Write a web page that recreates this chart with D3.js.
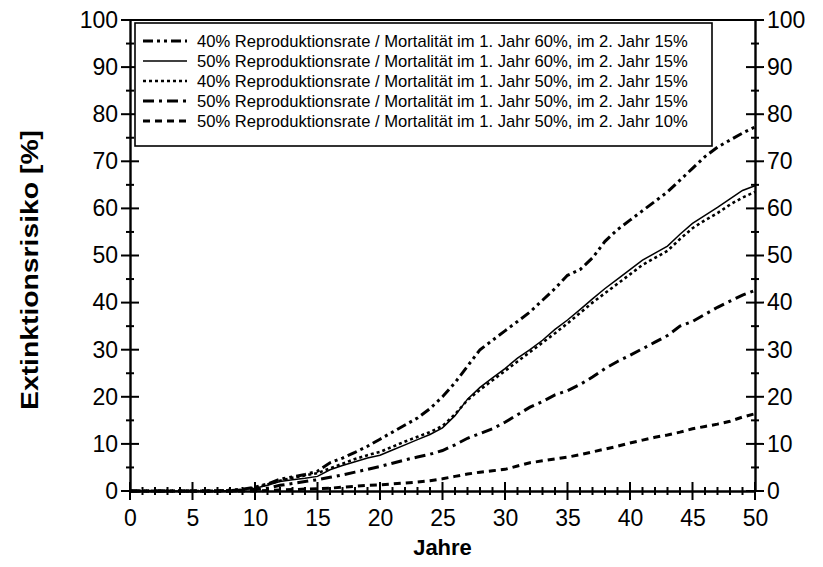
<!DOCTYPE html>
<html>
<head>
<meta charset="utf-8">
<script src="https://cdn.jsdelivr.net/npm/d3@7"></script>
<style>
body { margin: 0; background: #fff; }
text { font-family: Arial, "Liberation Sans", sans-serif; fill: #000; }
</style>
</head>
<body>
<script>
var w = 823;
var h = 567;

var margin = {top: 20, bottom: 76, left: 130, right: 68};

// years 0..50
var years = d3.range(0, 51);

var labels = [
    "40% Reproduktionsrate / Mortalität im 1. Jahr 60%, im 2. Jahr 15%",
    "50% Reproduktionsrate / Mortalität im 1. Jahr 60%, im 2. Jahr 15%",
    "40% Reproduktionsrate / Mortalität im 1. Jahr 50%, im 2. Jahr 15%",
    "50% Reproduktionsrate / Mortalität im 1. Jahr 50%, im 2. Jahr 15%",
    "50% Reproduktionsrate / Mortalität im 1. Jahr 50%, im 2. Jahr 10%"
];

var s1 = [0,0,0,0,0,0,0,0,0.2,0.4, 0.8,1.5,2.5,3,3.5,4.2,6,7,8.2,9.5,
    11,12.5,14,15.5,17.5,20,23,26.5,30,32, 34,36,38,40.5,43,45.8,47,49.5,53,55.5,
    57.5,59.5,61.5,63.5,66,68.5,71,73,74.5,76, 77.3];
var s2 = [0,0,0,0,0,0,0,0,0.1,0.3, 0.6,1.2,2,2.4,2.7,3.1,4.5,5.4,6.2,7,
    7.6,8.7,9.8,10.9,12,13.4,16,19.5,22,24, 26,28.2,30,32,34.3,36.3,38.5,40.8,43,45,
    47,49,50.5,52,54.5,56.8,58.5,60.2,62,63.8, 64.8];
var s3 = [0,0,0,0,0,0,0,0,0.1,0.3, 0.7,1.4,2.2,2.8,3.3,3.8,4.8,5.8,6.8,7.6,
    8.3,9.4,10.5,11.5,12.5,13.8,16.3,19.3,21.5,23.5, 25.5,27.5,29.5,31.5,33.5,35.6,37.8,40,42,44,
    46,48,49.5,51,53.5,55.8,57.5,59,60.8,62.3, 63.5];
var s4 = [0,0,0,0,0,0,0,0,0,0.1, 0.3,0.6,1.2,1.6,2,2.4,2.9,3.4,4,4.6,
    5.2,5.9,6.6,7.2,7.8,8.6,9.8,11.2,12.2,13.2, 14.6,16.2,17.8,19,20.4,21.3,22.6,24.2,26,27.5,
    28.8,30.2,31.6,33,35,36,37.5,39,40.3,41.6, 42.6];
var s5 = [0,0,0,0,0,0,0,0,0,0, 0,0.1,0.2,0.3,0.4,0.5,0.6,0.8,1,1.2,
    1.3,1.5,1.7,1.9,2.2,2.6,3.1,3.6,4,4.3, 4.6,5.3,6,6.4,6.8,7.2,7.7,8.3,8.9,9.5,
    10.2,10.8,11.4,11.9,12.5,13.2,13.7,14.2,14.8,15.7, 16.4];

var seriesList = [s1, s2, s3, s4, s5];

// line styles: dash-dot-dot, solid, dotted, dash-dot, dashed
var dashes = ["10,4,3,4,3,4", null, "3,3", "11,5,3,5", "7,5"];
var widths = [3, 1.5, 2.6, 3, 3];

var xTicks = d3.range(0, 51, 5);
var yTicks = d3.range(0, 101, 10);

var width = w - margin.left - margin.right;
var height = h - margin.top - margin.bottom;

var svg = d3.select("body")
    .append("svg")
    .attr("width", w)
    .attr("height", h);

var g = svg.append("g")
    .attr("transform", "translate(" + margin.left + "," + margin.top + ")");

var x = d3.scaleLinear().domain([0, 50]).range([0, width]);
var y = d3.scaleLinear().domain([0, 100]).range([height, 0]);

// frame top line
g.append("line")
    .attr("x1", 0).attr("x2", width)
    .attr("y1", 0).attr("y2", 0)
    .attr("stroke", "#000").attr("stroke-width", 2);

// axes lines + labels via d3 axes
var xAxis = g.append("g")
    .attr("transform", "translate(0," + height + ")")
    .call(d3.axisBottom(x).tickValues(xTicks).tickSize(0).tickPadding(15));
var yLeft = g.append("g")
    .call(d3.axisLeft(y).tickValues(yTicks).tickSize(0).tickPadding(12));
var yRight = g.append("g")
    .attr("transform", "translate(" + width + ",0)")
    .call(d3.axisRight(y).tickValues(yTicks).tickSize(0).tickPadding(12));

[xAxis, yLeft, yRight].forEach(function(a){
    a.select(".domain").attr("stroke", "#000").attr("stroke-width", 2.4);
    a.selectAll("text")
        .style("font-family", "Arial, 'Liberation Sans', sans-serif")
        .style("font-size", "23px")
        .attr("fill", "#000");
});
xAxis.selectAll("text").attr("dy", "0.85em");

// crossing tick helper
function drawTicks(values, size, orient) {
    values.forEach(function(v){
        var l = g.append("line").attr("stroke", "#000").attr("stroke-width", 2);
        if (orient == "bottom") {
            l.attr("x1", x(v)).attr("x2", x(v)).attr("y1", height - size).attr("y2", height + size);
        } else if (orient == "left") {
            l.attr("x1", -size).attr("x2", size).attr("y1", y(v)).attr("y2", y(v));
        } else {
            l.attr("x1", width - size).attr("x2", width + size).attr("y1", y(v)).attr("y2", y(v));
        }
    });
}

drawTicks(d3.range(0, 51, 1).filter(function(d){ return d % 5 != 0; }), 4, "bottom");
drawTicks(xTicks, 9, "bottom");
drawTicks(d3.range(5, 100, 10), 4, "left");
drawTicks(yTicks, 9, "left");
drawTicks(d3.range(5, 100, 10), 4, "right");
drawTicks(yTicks, 9, "right");

// series lines
var line = d3.line()
    .x(function(d, i){ return x(years[i]); })
    .y(function(d){ return y(d); });

seriesList.forEach(function(s, i){
    g.append("path")
        .datum(s)
        .attr("d", line)
        .attr("fill", "none")
        .attr("stroke", "#000")
        .attr("stroke-width", widths[i])
        .attr("stroke-dasharray", dashes[i]);
});

// axis titles
svg.append("text")
    .attr("x", margin.left + width / 2)
    .attr("y", 555)
    .attr("text-anchor", "middle")
    .style("font-size", "22px")
    .style("font-weight", "bold")
    .text("Jahre");

svg.append("text")
    .attr("transform", "translate(38," + 270 + ") rotate(-90)")
    .attr("text-anchor", "middle")
    .attr("textLength", 280)
    .attr("lengthAdjust", "spacingAndGlyphs")
    .style("font-size", "24px")
    .style("font-weight", "bold")
    .text("Extinktionsrisiko [%]");

// legend
var legend = svg.append("g");
legend.append("rect")
    .attr("x", 135).attr("y", 23)
    .attr("width", 577).attr("height", 123)
    .attr("fill", "#fff")
    .attr("stroke", "#000")
    .attr("stroke-width", 1.6);

labels.forEach(function(lab, i){
    var ly = 41 + i * 20;
    legend.append("line")
        .attr("x1", 143).attr("x2", 187)
        .attr("y1", ly).attr("y2", ly)
        .attr("stroke", "#000")
        .attr("stroke-width", widths[i])
        .attr("stroke-dasharray", dashes[i]);
    legend.append("text")
        .attr("x", 197)
        .attr("y", ly)
        .attr("dy", "0.35em")
        .style("font-size", "16.6px")
        .text(lab);
});
</script>
</body>
</html>
